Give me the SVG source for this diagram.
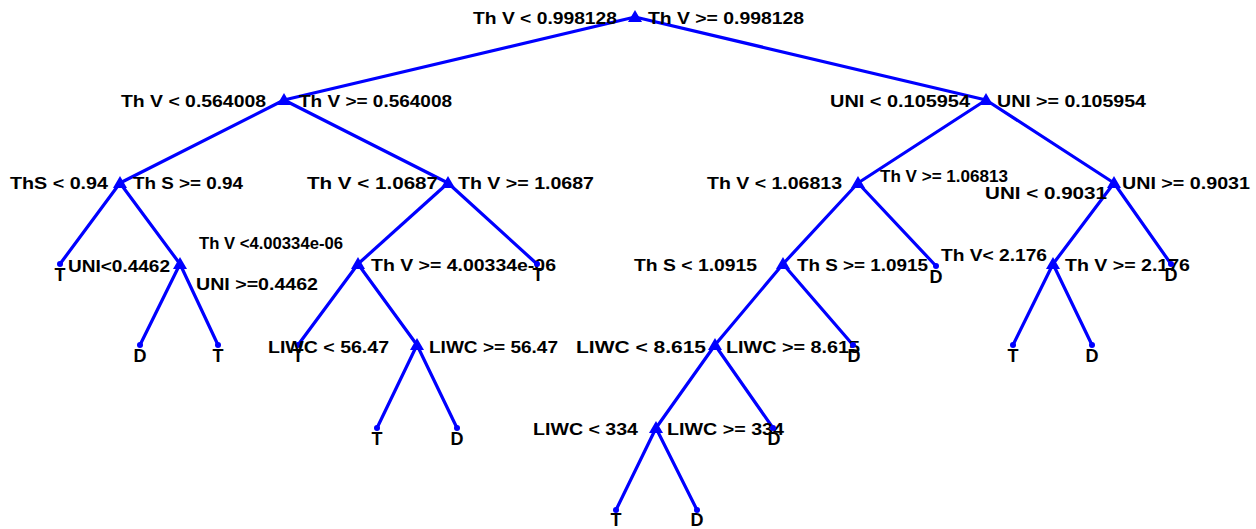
<svg xmlns="http://www.w3.org/2000/svg" width="1256" height="529" viewBox="0 0 1256 529">
<style>
.e{stroke:#0000FF;stroke-width:3.2;fill:none;stroke-linecap:round}
.n{fill:#0000FF}
.l{fill:#0000FF}
text{font-family:"Liberation Sans",Arial,sans-serif;font-weight:bold;font-size:17px;fill:#000}
.lf{font-size:18px;text-anchor:middle}
</style>
<defs>
<polygon id="tri" points="0,-7 -7,5 7,5" class="n"/>
<circle id="dot" r="3" class="l"/>
</defs>
<rect width="1256" height="529" fill="#fff"/>
<g id="connectors" class="e">
<line x1="635" y1="17" x2="284" y2="100"/>
<line x1="635" y1="17" x2="986" y2="100"/>
<line x1="284" y1="100" x2="120" y2="183"/>
<line x1="284" y1="100" x2="448" y2="183"/>
<line x1="986" y1="100" x2="858" y2="183"/>
<line x1="986" y1="100" x2="1114" y2="183"/>
<line x1="120" y1="183" x2="60" y2="264"/>
<line x1="120" y1="183" x2="180" y2="264"/>
<line x1="448" y1="183" x2="358" y2="264"/>
<line x1="448" y1="183" x2="537" y2="264"/>
<line x1="858" y1="183" x2="783" y2="264"/>
<line x1="858" y1="183" x2="936" y2="266"/>
<line x1="1114" y1="183" x2="1053" y2="264"/>
<line x1="1114" y1="183" x2="1171" y2="264"/>
<line x1="180" y1="264" x2="140" y2="345"/>
<line x1="180" y1="264" x2="218" y2="345"/>
<line x1="358" y1="264" x2="298" y2="345"/>
<line x1="358" y1="264" x2="417" y2="345"/>
<line x1="783" y1="264" x2="715" y2="345"/>
<line x1="783" y1="264" x2="853" y2="345"/>
<line x1="1053" y1="264" x2="1013" y2="345"/>
<line x1="1053" y1="264" x2="1092" y2="345"/>
<line x1="417" y1="345" x2="377" y2="428"/>
<line x1="417" y1="345" x2="457" y2="428"/>
<line x1="715" y1="345" x2="656" y2="428"/>
<line x1="715" y1="345" x2="773" y2="428"/>
<line x1="656" y1="428" x2="616" y2="510"/>
<line x1="656" y1="428" x2="697" y2="510"/>
</g>
<g id="n0"><use href="#tri" x="635" y="17"/>
<text x="473" y="24" textLength="144" lengthAdjust="spacingAndGlyphs">Th V &lt; 0.998128</text>
<text x="648" y="24" textLength="156" lengthAdjust="spacingAndGlyphs">Th V &gt;= 0.998128</text></g>
<g id="n1"><use href="#tri" x="284" y="100"/>
<text x="121" y="107" textLength="145" lengthAdjust="spacingAndGlyphs">Th V &lt; 0.564008</text>
<text x="299" y="107" textLength="153" lengthAdjust="spacingAndGlyphs">Th V &gt;= 0.564008</text></g>
<g id="n2"><use href="#tri" x="986" y="100"/>
<text x="830" y="107" textLength="140" lengthAdjust="spacingAndGlyphs">UNI &lt; 0.105954</text>
<text x="997" y="107" textLength="149" lengthAdjust="spacingAndGlyphs">UNI &gt;= 0.105954</text></g>
<g id="n3"><use href="#tri" x="120" y="183"/>
<text x="10" y="189" textLength="98" lengthAdjust="spacingAndGlyphs">ThS &lt; 0.94</text>
<text x="133" y="189" textLength="110" lengthAdjust="spacingAndGlyphs">Th S &gt;= 0.94</text></g>
<g id="n4"><use href="#tri" x="448" y="183"/>
<text x="307" y="189" textLength="131" lengthAdjust="spacingAndGlyphs">Th V &lt; 1.0687</text>
<text x="458" y="189" textLength="136" lengthAdjust="spacingAndGlyphs">Th V &gt;= 1.0687</text></g>
<g id="n5"><use href="#tri" x="858" y="183"/>
<text x="707" y="189" textLength="135" lengthAdjust="spacingAndGlyphs">Th V &lt; 1.06813</text>
<text x="880" y="182" textLength="128" lengthAdjust="spacingAndGlyphs">Th V &gt;= 1.06813</text></g>
<g id="n6"><use href="#tri" x="1114" y="183"/>
<text x="985" y="199" textLength="122" lengthAdjust="spacingAndGlyphs">UNI &lt; 0.9031</text>
<text x="1122" y="189" textLength="128" lengthAdjust="spacingAndGlyphs">UNI &gt;= 0.9031</text></g>
<g id="n7"><use href="#dot" x="60" y="264"/><text class="lf" x="60" y="281">T</text></g>
<g id="n8"><use href="#tri" x="180" y="264"/>
<text x="68" y="272" textLength="102" lengthAdjust="spacingAndGlyphs">UNI&lt;0.4462</text>
<text x="196" y="290" textLength="122" lengthAdjust="spacingAndGlyphs">UNI &gt;=0.4462</text></g>
<g id="n9"><use href="#tri" x="358" y="264"/>
<text x="199" y="249" textLength="144" lengthAdjust="spacingAndGlyphs">Th V &lt;4.00334e-06</text>
<text x="371" y="271" textLength="185" lengthAdjust="spacingAndGlyphs">Th V &gt;= 4.00334e-06</text></g>
<g id="n10"><use href="#dot" x="537" y="264"/><text class="lf" x="538" y="281">T</text></g>
<g id="n11"><use href="#tri" x="783" y="264"/>
<text x="634" y="271" textLength="123" lengthAdjust="spacingAndGlyphs">Th S &lt; 1.0915</text>
<text x="797" y="271" textLength="131" lengthAdjust="spacingAndGlyphs">Th S &gt;= 1.0915</text></g>
<g id="n12"><use href="#dot" x="936" y="266"/><text class="lf" x="936" y="283">D</text></g>
<g id="n13"><use href="#tri" x="1053" y="264"/>
<text x="941" y="261" textLength="106" lengthAdjust="spacingAndGlyphs">Th V&lt; 2.176</text>
<text x="1065" y="271" textLength="125" lengthAdjust="spacingAndGlyphs">Th V &gt;= 2.176</text></g>
<g id="n14"><use href="#dot" x="1171" y="264"/><text class="lf" x="1171" y="281">D</text></g>
<g id="n15"><use href="#dot" x="140" y="345"/><text class="lf" x="140" y="362">D</text></g>
<g id="n16"><use href="#dot" x="218" y="345"/><text class="lf" x="218" y="362">T</text></g>
<g id="n17"><use href="#dot" x="298" y="345"/><text class="lf" x="298" y="362">T</text></g>
<g id="n18"><use href="#tri" x="417" y="345"/>
<text x="268" y="353" textLength="121" lengthAdjust="spacingAndGlyphs">LIWC &lt; 56.47</text>
<text x="429" y="353" textLength="129" lengthAdjust="spacingAndGlyphs">LIWC &gt;= 56.47</text></g>
<g id="n19"><use href="#tri" x="715" y="345"/>
<text x="576" y="353" textLength="130" lengthAdjust="spacingAndGlyphs">LIWC &lt; 8.615</text>
<text x="726" y="353" textLength="134" lengthAdjust="spacingAndGlyphs">LIWC &gt;= 8.615</text></g>
<g id="n20"><use href="#dot" x="853" y="345"/><text class="lf" x="854" y="362">D</text></g>
<g id="n21"><use href="#dot" x="1013" y="345"/><text class="lf" x="1013" y="362">T</text></g>
<g id="n22"><use href="#dot" x="1092" y="345"/><text class="lf" x="1092" y="362">D</text></g>
<g id="n23"><use href="#dot" x="377" y="428"/><text class="lf" x="377" y="445">T</text></g>
<g id="n24"><use href="#dot" x="457" y="428"/><text class="lf" x="457" y="445">D</text></g>
<g id="n25"><use href="#tri" x="656" y="428"/>
<text x="533" y="435" textLength="105" lengthAdjust="spacingAndGlyphs">LIWC &lt; 334</text>
<text x="667" y="435" textLength="117" lengthAdjust="spacingAndGlyphs">LIWC &gt;= 334</text></g>
<g id="n26"><use href="#dot" x="773" y="428"/><text class="lf" x="774" y="445">D</text></g>
<g id="n27"><use href="#dot" x="616" y="510"/><text class="lf" x="616" y="526">T</text></g>
<g id="n28"><use href="#dot" x="697" y="510"/><text class="lf" x="697" y="526">D</text></g>
</svg>
